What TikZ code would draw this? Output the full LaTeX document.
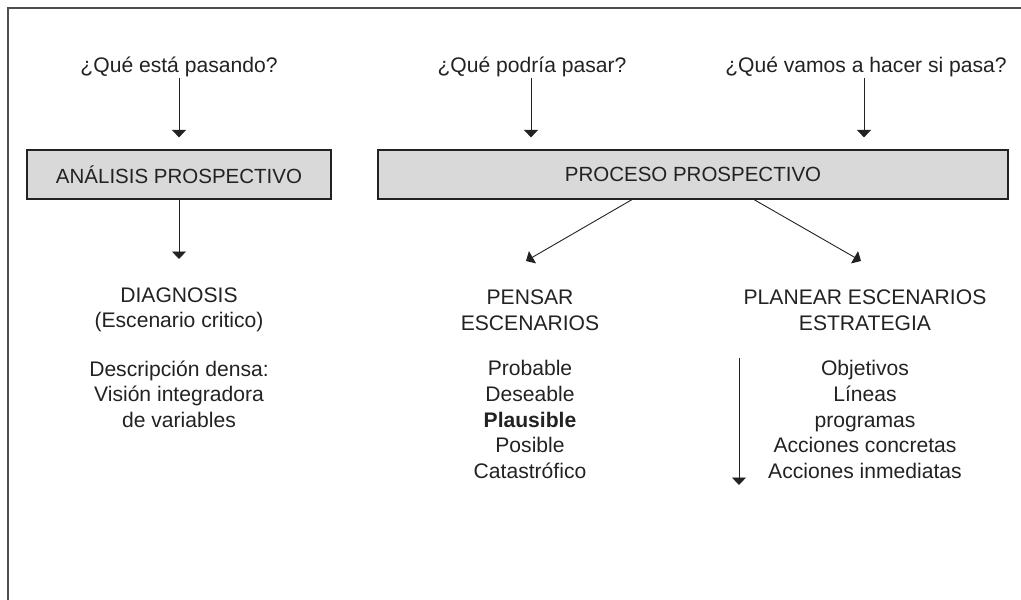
\documentclass[tikz,border=0pt]{standalone}
\usepackage{fontspec}
\setmainfont{Liberation Sans}
\usetikzlibrary{arrows.meta}
\definecolor{ink}{HTML}{222222}
\definecolor{boxfill}{HTML}{D9D9D9}
\begin{document}
\begin{tikzpicture}[x=1pt,y=-1pt,
  txt/.style={text=ink,font=\fontsize{21.1}{25.6}\selectfont,align=center,inner sep=0pt},
  boxnode/.style={draw=ink,fill=boxfill,line width=1.2pt,minimum height=49pt,inner sep=0pt,text=ink,font=\fontsize{20.5}{22}\selectfont},
  arr/.style={draw=ink,line width=0.9pt,-{Triangle[width=14pt,length=7.5pt]}}]
\useasboundingbox (0,0) rectangle (1021,600);
% frame (cropped: only top and left edges visible)
\draw[ink!80,line width=1.5pt] (1025,8) -- (8,8) -- (8,605);

% questions
\node[txt] (q1) at (179,67) {¿Qué está pasando?};
\node[txt] (q2) at (532,67) {¿Qué podría pasar?};
\node[txt] (q3) at (866,67) {¿Qué vamos a hacer si pasa?};

% boxes
\node[boxnode,minimum width=304pt] (b1) at (179,174.5) {ANÁLISIS PROSPECTIVO};
\node[boxnode,minimum width=630pt] (b2) at (693,174.5) {PROCESO PROSPECTIVO};

% question arrows
\coordinate (q1s) at (179,78);
\coordinate (q2s) at (531,78);
\coordinate (q3s) at (864,78);
\draw[arr] (q1s) -- ([yshift=12pt]q1s |- b1.north);
\draw[arr] (q2s) -- ([yshift=12pt]q2s |- b2.north);
\draw[arr] (q3s) -- ([yshift=12pt]q3s |- b2.north);

% results
\node[txt] (diag) at (179,310) {DIAGNOSIS\\(Escenario critico)};
\node[txt] (desc) at (179,394) {Descripción densa:\\Visión integradora\\de variables};
\node[txt] (pens) at (530,310) {PENSAR\\ESCENARIOS};
\node[txt] (plist) at (530,419.5) {Probable\\Deseable\\\textbf{Plausible}\\Posible\\Catastrófico};
\node[txt] (plan) at (865,310) {PLANEAR ESCENARIOS\\ESTRATEGIA};
\node[txt] (olist) at (865,419.5) {Objetivos\\Líneas\\programas\\Acciones concretas\\Acciones inmediatas};

% lower arrows
\coordinate (d1) at (179,259);
\draw[arr] (b1.south) -- (d1);
\coordinate (bl) at (633,199);
\coordinate (br) at (753,199);
\coordinate (tl) at (526,261);
\coordinate (tr) at (861,261);
\draw[arr] (bl) -- (tl);
\draw[arr] (br) -- (tr);
\coordinate (vs) at (739,358);
\coordinate (ve) at (739,485);
\draw[arr] (vs) -- (ve);
\end{tikzpicture}
\end{document}
